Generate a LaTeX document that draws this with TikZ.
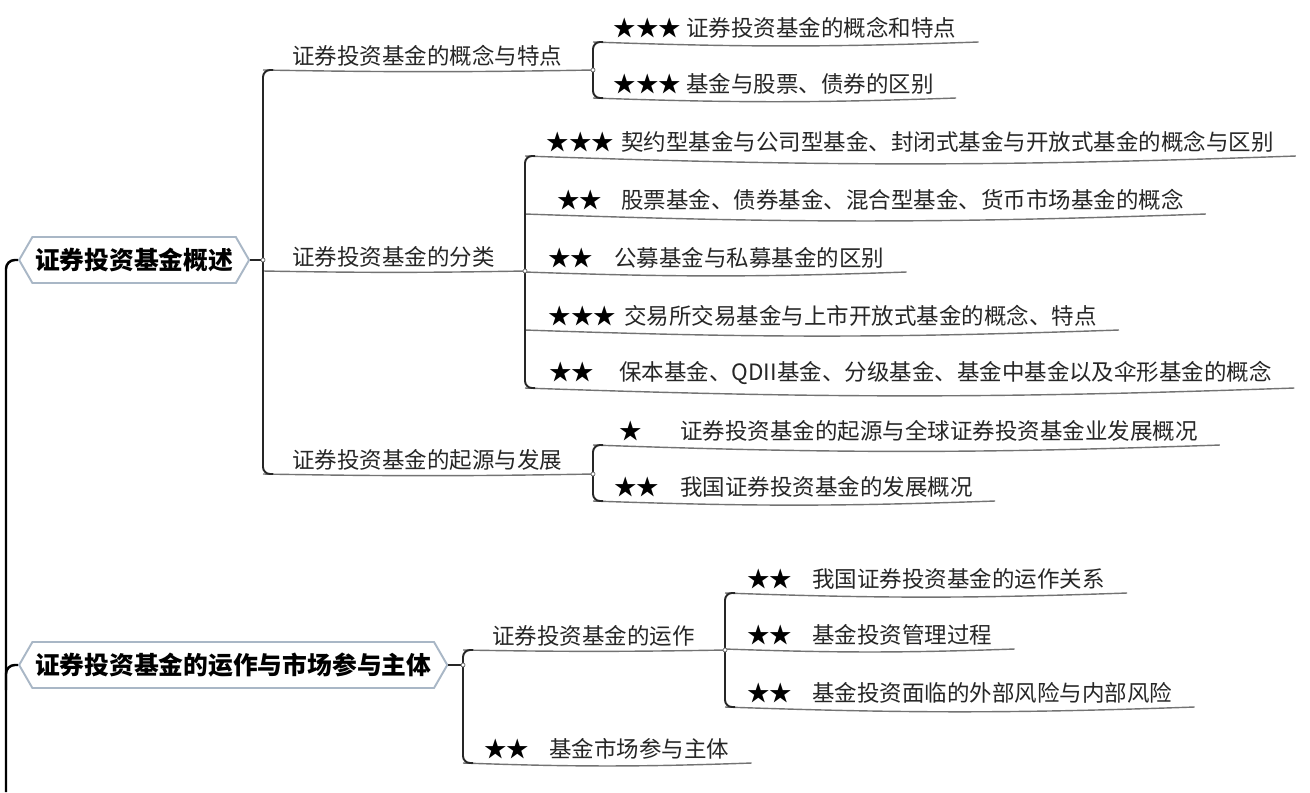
\documentclass[tikz,border=0pt]{standalone}
\usepackage{fontspec}
\setmainfont{Noto Sans CJK SC}
\usetikzlibrary{shapes.symbols,calc}
\definecolor{rootline}{HTML}{A9B7C6}
\newcommand{\rk}[2]{\llap{{\color{black}#1}\hspace{#2}}}

\begin{document}
\begin{tikzpicture}[x=0.02cm, y=-0.02cm,
    root/.style={signal, signal to=east and west, signal pointer angle=120, draw=rootline, line width=1.1pt, fill=white, minimum height=0.92cm, inner xsep=1.5pt, font=\fontsize{14.1}{17}\selectfont\bfseries},
    sub/.style={anchor=south west, inner xsep=0pt, inner ysep=2pt, text=black!85, font=\fontsize{12.8}{15}\selectfont},
    stem/.style={black!85, line width=1.1pt, rounded corners=4pt},
    uline/.style={black!55, line width=0.8pt},
    dot/.style={circle, draw=black!60, fill=white, inner sep=0pt, minimum size=0.08cm},
    trunk/.style={black, line width=1.4pt, rounded corners=5pt}
]
\useasboundingbox (0,0) rectangle (1310,792);

% roots
\node[root, anchor=west] (r1) at (18,260) {证券投资基金概述};
\node[root, anchor=west] (r2) at (18,665) {证券投资基金的运作与市场参与主体};

% junctions
\coordinate (v1) at (263,260);
\coordinate (v2) at (463,665);
\coordinate (g1) at (593,70);
\coordinate (g2) at (525,271);
\coordinate (g3) at (593,474);
\coordinate (g4) at (725,650);
\coordinate (tb) at (6,792);

% level 1
\node[sub] (c1) at (292,70) {证券投资基金的概念与特点};
\node[sub] (c2) at (292,271) {证券投资基金的分类};
\node[sub] (c3) at (292,474) {证券投资基金的起源与发展};
\node[sub] (c4) at (492,650) {证券投资基金的运作};
\node[sub] (c5) at (549,763) {\rk{★★}{0.4cm}基金市场参与主体};

% leaves
\node[sub] (a1) at (686,42) {\rk{★★★}{0.1cm}证券投资基金的概念和特点};
\node[sub] (a2) at (686,98) {\rk{★★★}{0.1cm}基金与股票、债券的区别};
\node[sub] (b1) at (621,156) {\rk{★★★}{0.14cm}契约型基金与公司型基金、封闭式基金与开放式基金的概念与区别};
\node[sub] (b2) at (621,214) {\rk{★★}{0.38cm}股票基金、债券基金、混合型基金、货币市场基金的概念};
\node[sub] (b3) at (614,272) {\rk{★★}{0.42cm}公募基金与私募基金的区别};
\node[sub] (b4) at (624,330) {\rk{★★★}{0.16cm}交易所交易基金与上市开放式基金的概念、特点};
\node[sub] (b5) at (619,388) {\rk{★★}{0.5cm}保本基金、QDII基金、分级基金、基金中基金以及伞形基金的概念};
\node[sub] (e1) at (680,445) {\rk{★}{0.76cm}证券投资基金的起源与全球证券投资基金业发展概况};
\node[sub] (e2) at (680,501) {\rk{★★}{0.42cm}我国证券投资基金的发展概况};
\node[sub] (f1) at (812,593) {\rk{★★}{0.4cm}我国证券投资基金的运作关系};
\node[sub] (f2) at (812,649) {\rk{★★}{0.4cm}基金投资管理过程};
\node[sub] (f3) at (812,707) {\rk{★★}{0.4cm}基金投资面临的外部风险与内部风险};

% underlines
\draw[uline] (c1.south west -| v1) to[bend right=1] (g1);
\draw[uline] (c2.south west -| v1) to[bend right=1] (g2);
\draw[uline] (c3.south west -| v1) to[bend right=1] (g3);
\draw[uline] (c4.south west -| v2) to[bend right=1] (g4);
\foreach \n/\g in {a1/g1, a2/g1, b1/g2, b2/g2, b3/g2, b4/g2, b5/g2, e1/g3, e2/g3, f1/g4, f2/g4, f3/g4, c5/v2}
  \draw[uline] (\n.south west -| \g) to[bend right=2] ($(\n.south east)+(22,0)$);

% brackets
\foreach \t/\b/\g in {c1/c3/v1, a1/a2/g1, b1/b5/g2, e1/e2/g3, c4/c5/v2, f1/f3/g4}
  \draw[stem] (\t.south west -| \g) ++(10,0) -- ++(-10,0) -- (\b.south west -| \g) -- ++(10,0);

\draw[stem] (r1.east) -- (v1);
\draw[stem] (r2.east) -- (v2);
\draw[trunk] (r1.west) -- ++(-12,0) -- (tb);
\draw[trunk] (r2.west) -- ++(-12,0) -- ++(0,25);

\foreach \p [count=\i] in {v1,v2,g1,g2,g3,g4}
  \node[dot] (d\i) at (\p) {};
\end{tikzpicture}
\end{document}
